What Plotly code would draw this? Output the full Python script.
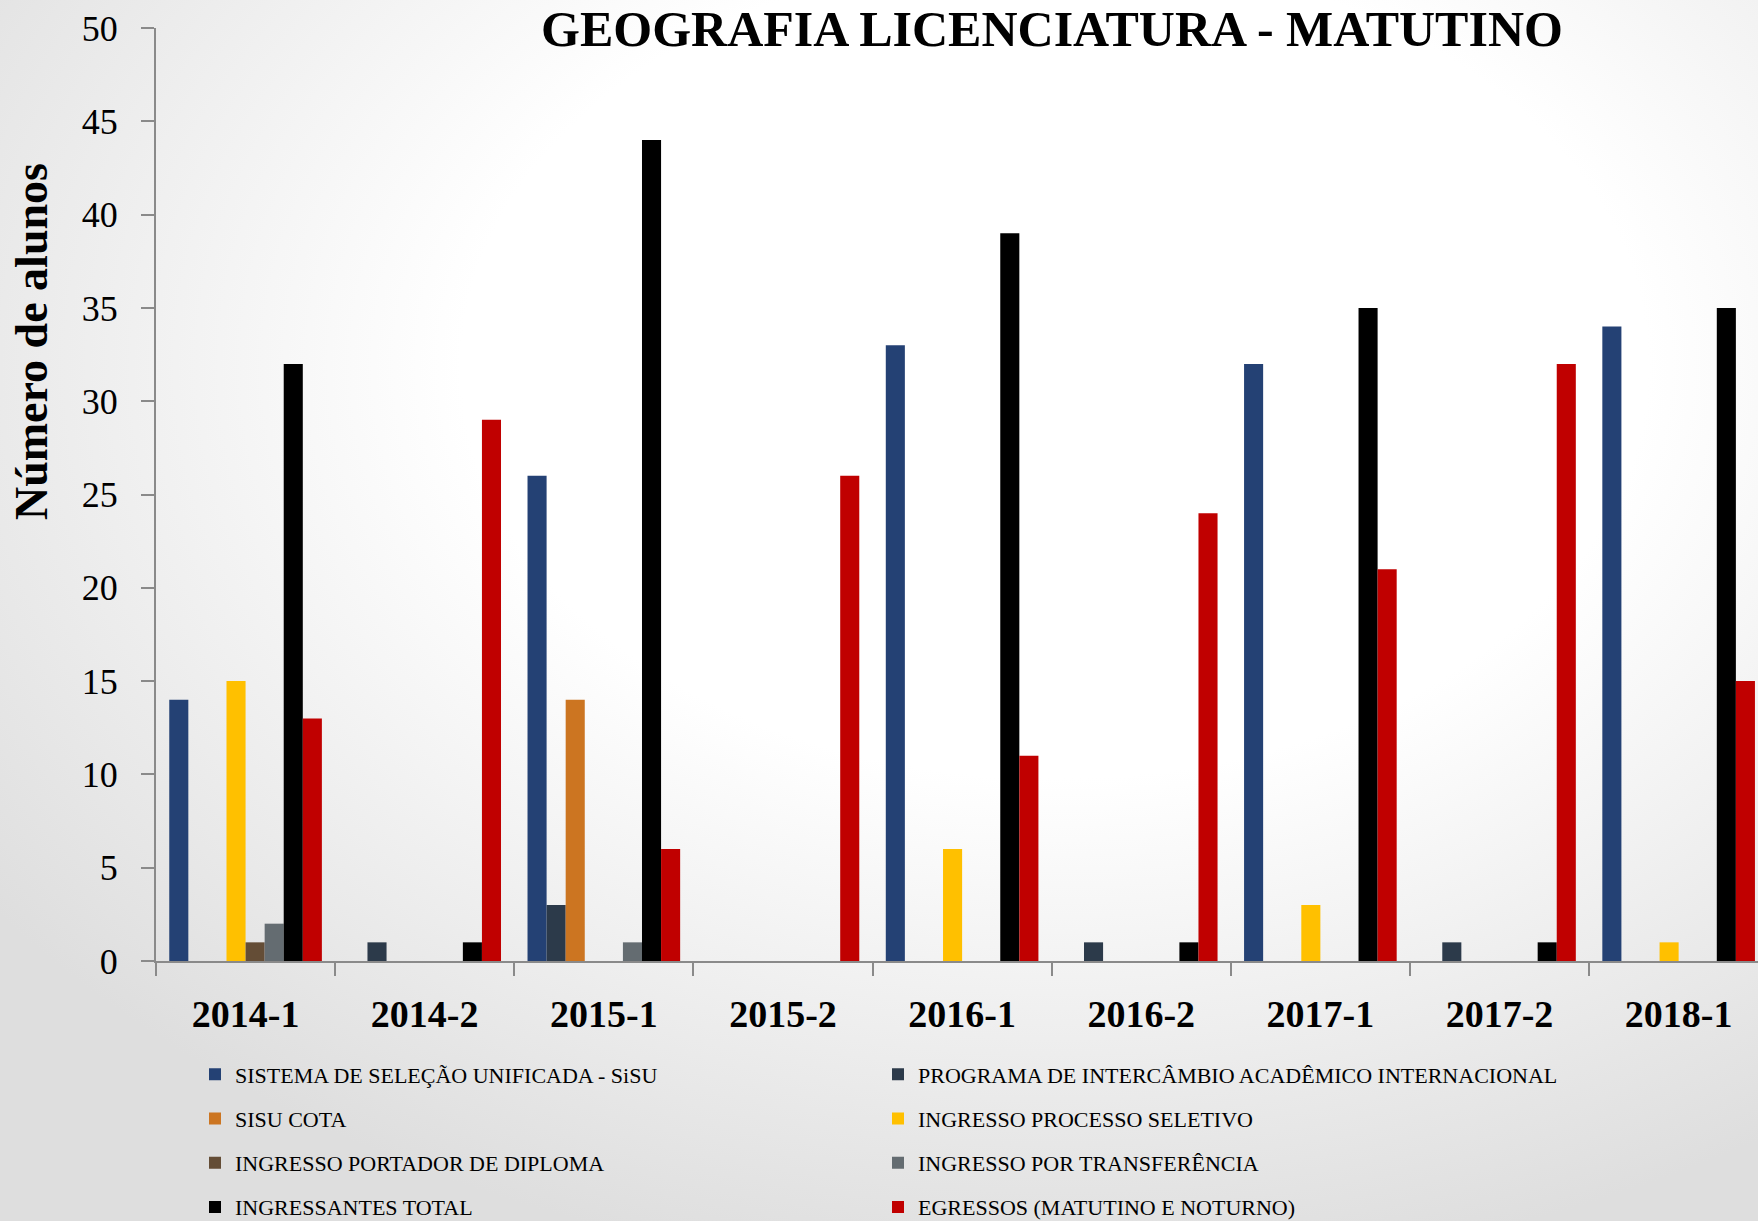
import base64
import plotly.graph_objects as go

categories = ["2014-1", "2014-2", "2015-1", "2015-2", "2016-1", "2016-2", "2017-1", "2017-2", "2018-1"]

sisu = [14, 0, 26, 0, 33, 0, 32, 0, 34]
intercambio = [0, 1, 3, 0, 0, 1, 0, 1, 0]
sisu_cota = [0, 0, 14, 0, 0, 0, 0, 0, 0]
processo_seletivo = [15, 0, 0, 0, 6, 0, 3, 0, 1]
portador_diploma = [1, 0, 0, 0, 0, 0, 0, 0, 0]
transferencia = [2, 0, 1, 0, 0, 0, 0, 0, 0]
ingressantes_total = [32, 1, 44, 0, 39, 1, 35, 1, 35]
egressos = [13, 29, 6, 26, 11, 24, 21, 32, 15]

series_names = [
    "SISTEMA DE SELEÇÃO UNIFICADA - SiSU",
    "PROGRAMA DE INTERCÂMBIO ACADÊMICO INTERNACIONAL",
    "SISU COTA",
    "INGRESSO PROCESSO SELETIVO",
    "INGRESSO PORTADOR DE DIPLOMA",
    "INGRESSO POR TRANSFERÊNCIA",
    "INGRESSANTES TOTAL",
    "EGRESSOS (MATUTINO E NOTURNO)",
]
series_values = [sisu, intercambio, sisu_cota, processo_seletivo,
                 portador_diploma, transferencia, ingressantes_total, egressos]
series_colors = ["#244174", "#2C3A4A", "#CC7521", "#FFC000",
                 "#644D36", "#646C71", "#000000", "#C00000"]

FONT = "Liberation Serif"
W, H = 1758, 1221
L, T, B, R = 156, 28, 260, 0
PW, PH = W - L - R, H - T - B

fig = go.Figure()
for i, (name, vals, col) in enumerate(zip(series_names, series_values, series_colors)):
    fig.add_trace(go.Bar(
        x=categories, y=vals, name=name,
        marker=dict(color=col, line=dict(width=0)),
        legend="legend" if i % 2 == 0 else "legend2",
        legendgroup=f"g{i}",
    ))

svg = (
    f'<svg xmlns="http://www.w3.org/2000/svg" width="{W}" height="{H}">'
    '<defs><radialGradient id="g" cx="0.6" cy="0.3" r="0.75">'
    '<stop offset="0" stop-color="#ffffff"/><stop offset="0.45" stop-color="#ffffff"/>'
    '<stop offset="1" stop-color="#dedede"/></radialGradient></defs>'
    f'<rect width="{W}" height="{H}" fill="url(#g)"/></svg>'
)
src = "data:image/svg+xml;base64," + base64.b64encode(svg.encode()).decode()

legend_common = dict(
    orientation="v", bgcolor="rgba(0,0,0,0)", borderwidth=0,
    font=dict(family=FONT, size=22, color="#000000"),
    tracegroupgap=12.6, itemwidth=30, xanchor="left", yanchor="top",
    y=(961 - 1053.5) / PH,
)

fig.update_layout(
    width=W, height=H,
    margin=dict(l=L, r=R, t=T, b=B, autoexpand=False),
    paper_bgcolor="#ffffff", plot_bgcolor="rgba(0,0,0,0)",
    barmode="group", bargap=0.148, bargroupgap=0,
    font=dict(family=FONT, color="#000000"),
    title=dict(text="<b>GEOGRAFIA LICENCIATURA - MATUTINO</b>",
               font=dict(family=FONT, size=50, color="#000000"),
               x=1052 / W, xanchor="center", xref="container",
               y=1 - 28 / H, yanchor="middle", yref="container"),
    xaxis=dict(type="category", categoryorder="array", categoryarray=categories,
               range=[-0.5, 8.443], tickson="boundaries",
               ticks="outside", ticklen=13, tickwidth=2, tickcolor="#8a8a8a",
               showline=True, linecolor="#8a8a8a", linewidth=2,
               showgrid=False, zeroline=False,
               tickfont=dict(family=FONT, size=38, color="#000000", weight="bold"),
               ticklabelstandoff=18),
    yaxis=dict(range=[0, 50], dtick=5, tick0=0,
               ticks="outside", ticklen=13, tickwidth=2, tickcolor="#8a8a8a",
               showline=True, linecolor="#8a8a8a", linewidth=2,
               showgrid=False, zeroline=False,
               tickfont=dict(family=FONT, size=36, color="#000000"),
               ticklabelstandoff=16),
    legend=dict(**legend_common, x=(195 - L) / PW),
    legend2=dict(**legend_common, x=(878 - L) / PW),
    images=[dict(source=src, xref="paper", yref="paper",
                 x=-L / PW, y=1 + T / PH, sizex=W / PW, sizey=H / PH,
                 xanchor="left", yanchor="top", sizing="stretch", layer="below")],
    annotations=[dict(text="<b>Número de alunos</b>", textangle=-90,
                      xref="paper", yref="paper",
                      x=(31 - L) / PW, y=(961 - 342) / PH,
                      xanchor="center", yanchor="middle", showarrow=False,
                      font=dict(family=FONT, size=46, color="#000000"))],
    showlegend=True,
)

fig.write_html("out.html", config={"displayModeBar": False},
               post_script="document.body.style.margin='0';")
